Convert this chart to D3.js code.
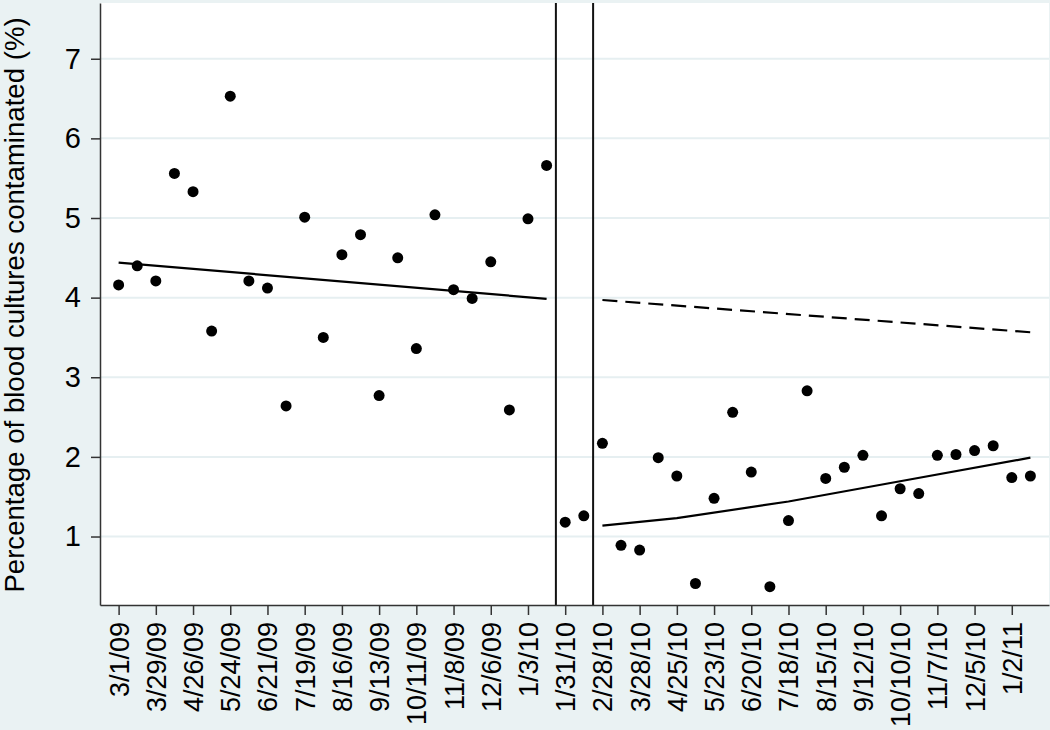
<!DOCTYPE html>
<html>
<head>
<meta charset="utf-8">
<script src="https://cdn.jsdelivr.net/npm/d3@7"></script>
<style>
  body { margin: 0; background: #eaf2f3; }
  text { font-family: "Liberation Sans", Arial, sans-serif; fill: #000; }
</style>
</head>
<body>
<div id="visualization"></div>
<script>
// biweekly observation dates
var obsDates = ["3/1/09","3/15/09","3/29/09","4/12/09","4/26/09","5/10/09","5/24/09","6/7/09","6/21/09","7/5/09",
  "7/19/09","8/2/09","8/16/09","8/30/09","9/13/09","9/27/09","10/11/09","10/25/09","11/8/09","11/22/09",
  "12/6/09","12/20/09","1/3/10","1/17/10","1/31/10","2/14/10","2/28/10","3/14/10","3/28/10","4/11/10",
  "4/25/10","5/9/10","5/23/10","6/6/10","6/20/10","7/4/10","7/18/10","8/1/10","8/15/10","8/29/10",
  "9/12/10","9/26/10","10/10/10","10/24/10","11/7/10","11/21/10","12/5/10","12/19/10","1/2/11","1/16/11"];

// percentage of blood cultures contaminated
var pctContaminated = [4.16, 4.40, 4.21, 5.56, 5.33, 3.58, 6.53, 4.21, 4.12, 2.64,
  5.01, 3.50, 4.54, 4.79, 2.77, 4.50, 3.36, 5.04, 4.10, 3.99,
  4.45, 2.59, 4.99, 5.66, 1.18, 1.26, 2.17, 0.89, 0.83, 1.99,
  1.76, 0.41, 1.48, 2.56, 1.81, 0.37, 1.20, 2.83, 1.73, 1.87,
  2.02, 1.26, 1.60, 1.54, 2.02, 2.03, 2.08, 2.14, 1.74, 1.76];

var tickLabels = ["3/1/09","3/29/09","4/26/09","5/24/09","6/21/09","7/19/09","8/16/09","9/13/09","10/11/09",
  "11/8/09","12/6/09","1/3/10","1/31/10","2/28/10","3/28/10","4/25/10","5/23/10","6/20/10","7/18/10",
  "8/15/10","9/12/10","10/10/10","11/7/10","12/5/10","1/2/11"];

// fitted trends
var preTrendDates = ["3/1/09","1/17/10"];
var preTrendVals = [4.44, 3.985];
var postTrendDates = ["2/28/10","4/25/10","7/18/10","10/10/10","1/16/11"];
var postTrendVals = [1.136, 1.23, 1.44, 1.694, 1.99];
var cfTrendDates = ["2/28/10","1/16/11"];
var cfTrendVals = [3.97, 3.565];

// intervention period boundaries
var breakDates = ["1/24/10","2/21/10"];
var xDomain = ["2/15/09","1/30/11"];
var yTicks = [1, 2, 3, 4, 5, 6, 7];

render();

function render() {
  var parse = d3.timeParse("%m/%d/%y");
  var width = 1050, height = 730;
  var plot = {left: 100, right: 1049, top: 3, bottom: 605};

  var svg = d3.select("#visualization").append("svg")
              .attr("width", width)
              .attr("height", height);

  var x = d3.scaleTime()
            .domain(xDomain.map(parse))
            .range([plot.left, plot.right]);

  var y = d3.scaleLinear()
            .domain([0.14, 7.7])
            .range([plot.bottom, plot.top]);

  // white plot region
  svg.append("rect")
     .attr("x", plot.left).attr("y", plot.top)
     .attr("width", plot.right - plot.left)
     .attr("height", plot.bottom - plot.top)
     .attr("fill", "#fff");

  // gridlines
  svg.selectAll(".grid")
     .data(yTicks)
     .enter().append("line")
     .attr("x1", plot.left).attr("x2", plot.right)
     .attr("y1", d => y(d)).attr("y2", d => y(d))
     .attr("stroke", "#e6eff1")
     .attr("stroke-width", 2);

  // break lines
  svg.selectAll(".brk")
     .data(breakDates)
     .enter().append("line")
     .attr("x1", d => x(parse(d))).attr("x2", d => x(parse(d)))
     .attr("y1", plot.top).attr("y2", plot.bottom)
     .attr("stroke", "#111")
     .attr("stroke-width", 2);

  var line = d3.line().x(d => x(d[0])).y(d => y(d[1]));
  function pairs(ds, vs) { return ds.map((d, i) => [parse(d), vs[i]]); }

  svg.append("path")
     .attr("d", line(pairs(preTrendDates, preTrendVals)))
     .attr("fill", "none").attr("stroke", "#000").attr("stroke-width", 2.2);

  svg.append("path")
     .attr("d", line(pairs(postTrendDates, postTrendVals)))
     .attr("fill", "none").attr("stroke", "#000").attr("stroke-width", 2.2);

  svg.append("path")
     .attr("d", line(pairs(cfTrendDates, cfTrendVals)))
     .attr("fill", "none").attr("stroke", "#000").attr("stroke-width", 2.2)
     .attr("stroke-dasharray", "15,8");

  // points
  svg.selectAll(".dot")
     .data(pairs(obsDates, pctContaminated))
     .enter().append("circle")
     .attr("cx", d => x(d[0]))
     .attr("cy", d => y(d[1]))
     .attr("r", 5.5)
     .attr("fill", "#000");

  // axes
  var xAxis = d3.axisBottom(x)
                .tickValues(tickLabels.map(parse))
                .tickFormat((d, i) => tickLabels[i])
                .tickSize(10)
                .tickSizeOuter(0);

  var gx = svg.append("g")
              .attr("transform", "translate(0," + plot.bottom + ")")
              .call(xAxis);
  gx.select(".domain").attr("stroke", "#333").attr("stroke-width", 1.5);
  gx.selectAll(".tick line").attr("stroke", "#333").attr("stroke-width", 1.5);
  gx.selectAll(".tick text")
    .attr("transform", "rotate(-90)")
    .attr("text-anchor", "end")
    .attr("x", -17)
    .attr("y", 0)
    .attr("dy", "0.35em")
    .style("font-size", "27px");

  var yAxis = d3.axisLeft(y)
                .tickValues(yTicks)
                .tickSize(9)
                .tickPadding(10)
                .tickSizeOuter(0);

  var gy = svg.append("g")
              .attr("transform", "translate(" + plot.left + ",0)")
              .call(yAxis);
  gy.select(".domain").attr("stroke", "#333").attr("stroke-width", 1.5);
  gy.selectAll(".tick line").attr("stroke", "#333").attr("stroke-width", 1.5);
  gy.selectAll(".tick text").style("font-size", "29px");

  // Y-Axis label
  svg.append("text")
     .attr("transform", "translate(24," + (plot.top + plot.bottom + 2) / 2 + ") rotate(-90)")
     .attr("text-anchor", "middle")
     .style("font-size", "27.6px")
     .text("Percentage of blood cultures contaminated (%)");
}
</script>
</body>
</html>
